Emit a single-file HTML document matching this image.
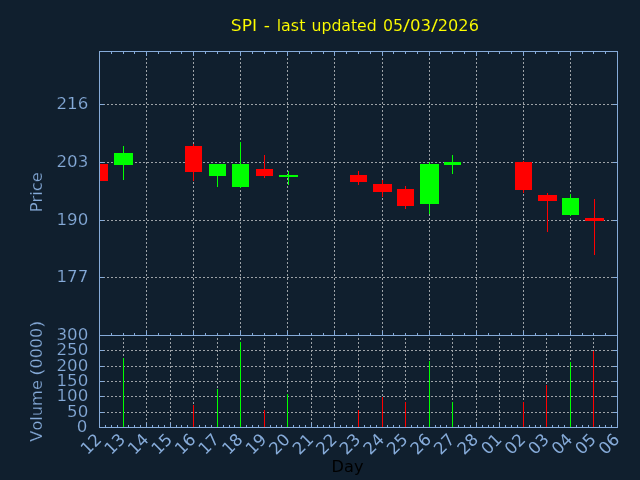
<!DOCTYPE html>
<html lang="en">
<head>
<meta charset="utf-8">
<title>SPI - last updated 05/03/2026</title>
<style>
html,body{margin:0;padding:0;background:#101f2e;overflow:hidden;}
body{width:640px;height:480px;}
svg{display:block;position:absolute;left:0;top:0;}
</style>
</head>
<body>
<svg width="640" height="480" viewBox="0 0 640 480">
<rect x="0" y="0" width="640" height="480" fill="#101f2e"/>
<g stroke="#9da2a7" stroke-width="1" fill="none" stroke-dasharray="2 2" stroke-dashoffset="0.5" shape-rendering="crispEdges">
<line x1="99.5" y1="104.5" x2="617.5" y2="104.5"/>
<line x1="99.5" y1="162.5" x2="617.5" y2="162.5"/>
<line x1="99.5" y1="220.5" x2="617.5" y2="220.5"/>
<line x1="99.5" y1="277.5" x2="617.5" y2="277.5"/>
<line x1="146.5" y1="335.5" x2="146.5" y2="51.5"/>
<line x1="193.5" y1="335.5" x2="193.5" y2="51.5"/>
<line x1="240.5" y1="335.5" x2="240.5" y2="51.5"/>
<line x1="287.5" y1="335.5" x2="287.5" y2="51.5"/>
<line x1="334.5" y1="335.5" x2="334.5" y2="51.5"/>
<line x1="382.5" y1="335.5" x2="382.5" y2="51.5"/>
<line x1="429.5" y1="335.5" x2="429.5" y2="51.5"/>
<line x1="476.5" y1="335.5" x2="476.5" y2="51.5"/>
<line x1="523.5" y1="335.5" x2="523.5" y2="51.5"/>
<line x1="570.5" y1="335.5" x2="570.5" y2="51.5"/>
<line x1="99.5" y1="412.5" x2="617.5" y2="412.5"/>
<line x1="99.5" y1="396.5" x2="617.5" y2="396.5"/>
<line x1="99.5" y1="381.5" x2="617.5" y2="381.5"/>
<line x1="99.5" y1="366.5" x2="617.5" y2="366.5"/>
<line x1="99.5" y1="350.5" x2="617.5" y2="350.5"/>
<line x1="123.5" y1="427.5" x2="123.5" y2="335.5"/>
<line x1="146.5" y1="427.5" x2="146.5" y2="335.5"/>
<line x1="170.5" y1="427.5" x2="170.5" y2="335.5"/>
<line x1="193.5" y1="427.5" x2="193.5" y2="335.5"/>
<line x1="217.5" y1="427.5" x2="217.5" y2="335.5"/>
<line x1="240.5" y1="427.5" x2="240.5" y2="335.5"/>
<line x1="264.5" y1="427.5" x2="264.5" y2="335.5"/>
<line x1="287.5" y1="427.5" x2="287.5" y2="335.5"/>
<line x1="311.5" y1="427.5" x2="311.5" y2="335.5"/>
<line x1="334.5" y1="427.5" x2="334.5" y2="335.5"/>
<line x1="358.5" y1="427.5" x2="358.5" y2="335.5"/>
<line x1="382.5" y1="427.5" x2="382.5" y2="335.5"/>
<line x1="405.5" y1="427.5" x2="405.5" y2="335.5"/>
<line x1="429.5" y1="427.5" x2="429.5" y2="335.5"/>
<line x1="452.5" y1="427.5" x2="452.5" y2="335.5"/>
<line x1="476.5" y1="427.5" x2="476.5" y2="335.5"/>
<line x1="499.5" y1="427.5" x2="499.5" y2="335.5"/>
<line x1="523.5" y1="427.5" x2="523.5" y2="335.5"/>
<line x1="546.5" y1="427.5" x2="546.5" y2="335.5"/>
<line x1="570.5" y1="427.5" x2="570.5" y2="335.5"/>
<line x1="593.5" y1="427.5" x2="593.5" y2="335.5"/>
</g>
<defs><clipPath id="ct"><rect x="99.5" y="51.5" width="518.0" height="284.0"/></clipPath>
<clipPath id="cb"><rect x="99.5" y="335.5" width="518.0" height="92.0"/></clipPath></defs>
<g clip-path="url(#ct)">
<line x1="99.5" y1="164" x2="99.5" y2="181" stroke="#ff0000" stroke-width="1" shape-rendering="crispEdges"/>
<rect x="91" y="164" width="17" height="17" fill="#ff0000"/>
<line x1="123.5" y1="146" x2="123.5" y2="180" stroke="#00ff00" stroke-width="1" shape-rendering="crispEdges"/>
<rect x="114" y="153" width="19" height="12" fill="#00ff00"/>
<line x1="193.5" y1="144" x2="193.5" y2="181" stroke="#ff0000" stroke-width="1" shape-rendering="crispEdges"/>
<rect x="185" y="146" width="17" height="26" fill="#ff0000"/>
<line x1="217.5" y1="164" x2="217.5" y2="187" stroke="#00ff00" stroke-width="1" shape-rendering="crispEdges"/>
<rect x="209" y="164" width="17" height="12" fill="#00ff00"/>
<line x1="240.5" y1="142" x2="240.5" y2="187.5" stroke="#00ff00" stroke-width="1" shape-rendering="crispEdges"/>
<rect x="232" y="164" width="17" height="23" fill="#00ff00"/>
<line x1="264.5" y1="155" x2="264.5" y2="178" stroke="#ff0000" stroke-width="1" shape-rendering="crispEdges"/>
<rect x="256" y="169" width="17" height="7" fill="#ff0000"/>
<line x1="288.5" y1="171" x2="288.5" y2="185" stroke="#00ff00" stroke-width="1" shape-rendering="crispEdges"/>
<rect x="279" y="175" width="19" height="2" fill="#00ff00"/>
<line x1="358.5" y1="171" x2="358.5" y2="185" stroke="#ff0000" stroke-width="1" shape-rendering="crispEdges"/>
<rect x="350" y="175" width="17" height="7" fill="#ff0000"/>
<line x1="382.5" y1="180" x2="382.5" y2="197" stroke="#ff0000" stroke-width="1" shape-rendering="crispEdges"/>
<rect x="373" y="184" width="19" height="8" fill="#ff0000"/>
<line x1="405.5" y1="186" x2="405.5" y2="209" stroke="#ff0000" stroke-width="1" shape-rendering="crispEdges"/>
<rect x="397" y="189" width="17" height="17" fill="#ff0000"/>
<line x1="429.5" y1="162" x2="429.5" y2="214" stroke="#00ff00" stroke-width="1" shape-rendering="crispEdges"/>
<rect x="420" y="164" width="19" height="40" fill="#00ff00"/>
<line x1="452.5" y1="155" x2="452.5" y2="174" stroke="#00ff00" stroke-width="1" shape-rendering="crispEdges"/>
<rect x="444" y="162" width="17" height="3" fill="#00ff00"/>
<line x1="523.5" y1="161" x2="523.5" y2="193" stroke="#ff0000" stroke-width="1" shape-rendering="crispEdges"/>
<rect x="515" y="162" width="17" height="28" fill="#ff0000"/>
<line x1="547.5" y1="193" x2="547.5" y2="232" stroke="#ff0000" stroke-width="1" shape-rendering="crispEdges"/>
<rect x="538" y="195" width="19" height="6" fill="#ff0000"/>
<line x1="570.5" y1="194" x2="570.5" y2="216" stroke="#00ff00" stroke-width="1" shape-rendering="crispEdges"/>
<rect x="562" y="198" width="17" height="17" fill="#00ff00"/>
<line x1="594.5" y1="199" x2="594.5" y2="255" stroke="#ff0000" stroke-width="1" shape-rendering="crispEdges"/>
<rect x="585" y="218" width="19" height="3" fill="#ff0000"/>
</g>
<g stroke="#86abd9" stroke-width="1" fill="none" shape-rendering="crispEdges">
<line x1="111.5" y1="51.5" x2="111.5" y2="54.0"/>
<line x1="111.5" y1="335.5" x2="111.5" y2="333.0"/>
<line x1="123.5" y1="51.5" x2="123.5" y2="54.0"/>
<line x1="123.5" y1="335.5" x2="123.5" y2="333.0"/>
<line x1="134.5" y1="51.5" x2="134.5" y2="54.0"/>
<line x1="134.5" y1="335.5" x2="134.5" y2="333.0"/>
<line x1="146.5" y1="51.5" x2="146.5" y2="56.0"/>
<line x1="146.5" y1="335.5" x2="146.5" y2="331.0"/>
<line x1="158.5" y1="51.5" x2="158.5" y2="54.0"/>
<line x1="158.5" y1="335.5" x2="158.5" y2="333.0"/>
<line x1="170.5" y1="51.5" x2="170.5" y2="54.0"/>
<line x1="170.5" y1="335.5" x2="170.5" y2="333.0"/>
<line x1="181.5" y1="51.5" x2="181.5" y2="54.0"/>
<line x1="181.5" y1="335.5" x2="181.5" y2="333.0"/>
<line x1="193.5" y1="51.5" x2="193.5" y2="56.0"/>
<line x1="193.5" y1="335.5" x2="193.5" y2="331.0"/>
<line x1="205.5" y1="51.5" x2="205.5" y2="54.0"/>
<line x1="205.5" y1="335.5" x2="205.5" y2="333.0"/>
<line x1="217.5" y1="51.5" x2="217.5" y2="54.0"/>
<line x1="217.5" y1="335.5" x2="217.5" y2="333.0"/>
<line x1="229.5" y1="51.5" x2="229.5" y2="54.0"/>
<line x1="229.5" y1="335.5" x2="229.5" y2="333.0"/>
<line x1="240.5" y1="51.5" x2="240.5" y2="56.0"/>
<line x1="240.5" y1="335.5" x2="240.5" y2="331.0"/>
<line x1="252.5" y1="51.5" x2="252.5" y2="54.0"/>
<line x1="252.5" y1="335.5" x2="252.5" y2="333.0"/>
<line x1="264.5" y1="51.5" x2="264.5" y2="54.0"/>
<line x1="264.5" y1="335.5" x2="264.5" y2="333.0"/>
<line x1="276.5" y1="51.5" x2="276.5" y2="54.0"/>
<line x1="276.5" y1="335.5" x2="276.5" y2="333.0"/>
<line x1="287.5" y1="51.5" x2="287.5" y2="56.0"/>
<line x1="287.5" y1="335.5" x2="287.5" y2="331.0"/>
<line x1="299.5" y1="51.5" x2="299.5" y2="54.0"/>
<line x1="299.5" y1="335.5" x2="299.5" y2="333.0"/>
<line x1="311.5" y1="51.5" x2="311.5" y2="54.0"/>
<line x1="311.5" y1="335.5" x2="311.5" y2="333.0"/>
<line x1="323.5" y1="51.5" x2="323.5" y2="54.0"/>
<line x1="323.5" y1="335.5" x2="323.5" y2="333.0"/>
<line x1="334.5" y1="51.5" x2="334.5" y2="56.0"/>
<line x1="334.5" y1="335.5" x2="334.5" y2="331.0"/>
<line x1="346.5" y1="51.5" x2="346.5" y2="54.0"/>
<line x1="346.5" y1="335.5" x2="346.5" y2="333.0"/>
<line x1="358.5" y1="51.5" x2="358.5" y2="54.0"/>
<line x1="358.5" y1="335.5" x2="358.5" y2="333.0"/>
<line x1="370.5" y1="51.5" x2="370.5" y2="54.0"/>
<line x1="370.5" y1="335.5" x2="370.5" y2="333.0"/>
<line x1="382.5" y1="51.5" x2="382.5" y2="56.0"/>
<line x1="382.5" y1="335.5" x2="382.5" y2="331.0"/>
<line x1="393.5" y1="51.5" x2="393.5" y2="54.0"/>
<line x1="393.5" y1="335.5" x2="393.5" y2="333.0"/>
<line x1="405.5" y1="51.5" x2="405.5" y2="54.0"/>
<line x1="405.5" y1="335.5" x2="405.5" y2="333.0"/>
<line x1="417.5" y1="51.5" x2="417.5" y2="54.0"/>
<line x1="417.5" y1="335.5" x2="417.5" y2="333.0"/>
<line x1="429.5" y1="51.5" x2="429.5" y2="56.0"/>
<line x1="429.5" y1="335.5" x2="429.5" y2="331.0"/>
<line x1="440.5" y1="51.5" x2="440.5" y2="54.0"/>
<line x1="440.5" y1="335.5" x2="440.5" y2="333.0"/>
<line x1="452.5" y1="51.5" x2="452.5" y2="54.0"/>
<line x1="452.5" y1="335.5" x2="452.5" y2="333.0"/>
<line x1="464.5" y1="51.5" x2="464.5" y2="54.0"/>
<line x1="464.5" y1="335.5" x2="464.5" y2="333.0"/>
<line x1="476.5" y1="51.5" x2="476.5" y2="56.0"/>
<line x1="476.5" y1="335.5" x2="476.5" y2="331.0"/>
<line x1="488.5" y1="51.5" x2="488.5" y2="54.0"/>
<line x1="488.5" y1="335.5" x2="488.5" y2="333.0"/>
<line x1="499.5" y1="51.5" x2="499.5" y2="54.0"/>
<line x1="499.5" y1="335.5" x2="499.5" y2="333.0"/>
<line x1="511.5" y1="51.5" x2="511.5" y2="54.0"/>
<line x1="511.5" y1="335.5" x2="511.5" y2="333.0"/>
<line x1="523.5" y1="51.5" x2="523.5" y2="56.0"/>
<line x1="523.5" y1="335.5" x2="523.5" y2="331.0"/>
<line x1="535.5" y1="51.5" x2="535.5" y2="54.0"/>
<line x1="535.5" y1="335.5" x2="535.5" y2="333.0"/>
<line x1="546.5" y1="51.5" x2="546.5" y2="54.0"/>
<line x1="546.5" y1="335.5" x2="546.5" y2="333.0"/>
<line x1="558.5" y1="51.5" x2="558.5" y2="54.0"/>
<line x1="558.5" y1="335.5" x2="558.5" y2="333.0"/>
<line x1="570.5" y1="51.5" x2="570.5" y2="56.0"/>
<line x1="570.5" y1="335.5" x2="570.5" y2="331.0"/>
<line x1="582.5" y1="51.5" x2="582.5" y2="54.0"/>
<line x1="582.5" y1="335.5" x2="582.5" y2="333.0"/>
<line x1="593.5" y1="51.5" x2="593.5" y2="54.0"/>
<line x1="593.5" y1="335.5" x2="593.5" y2="333.0"/>
<line x1="605.5" y1="51.5" x2="605.5" y2="54.0"/>
<line x1="605.5" y1="335.5" x2="605.5" y2="333.0"/>
<line x1="99.5" y1="104.5" x2="104.0" y2="104.5"/>
<line x1="617.5" y1="104.5" x2="613.0" y2="104.5"/>
<line x1="99.5" y1="162.5" x2="104.0" y2="162.5"/>
<line x1="617.5" y1="162.5" x2="613.0" y2="162.5"/>
<line x1="99.5" y1="220.5" x2="104.0" y2="220.5"/>
<line x1="617.5" y1="220.5" x2="613.0" y2="220.5"/>
<line x1="99.5" y1="277.5" x2="104.0" y2="277.5"/>
<line x1="617.5" y1="277.5" x2="613.0" y2="277.5"/>
<line x1="105.5" y1="427.5" x2="105.5" y2="425.0"/>
<line x1="111.5" y1="427.5" x2="111.5" y2="425.0"/>
<line x1="117.5" y1="427.5" x2="117.5" y2="425.0"/>
<line x1="123.5" y1="427.5" x2="123.5" y2="423.0"/>
<line x1="128.5" y1="427.5" x2="128.5" y2="425.0"/>
<line x1="134.5" y1="427.5" x2="134.5" y2="425.0"/>
<line x1="140.5" y1="427.5" x2="140.5" y2="425.0"/>
<line x1="146.5" y1="427.5" x2="146.5" y2="423.0"/>
<line x1="152.5" y1="427.5" x2="152.5" y2="425.0"/>
<line x1="158.5" y1="427.5" x2="158.5" y2="425.0"/>
<line x1="164.5" y1="427.5" x2="164.5" y2="425.0"/>
<line x1="170.5" y1="427.5" x2="170.5" y2="423.0"/>
<line x1="176.5" y1="427.5" x2="176.5" y2="425.0"/>
<line x1="181.5" y1="427.5" x2="181.5" y2="425.0"/>
<line x1="187.5" y1="427.5" x2="187.5" y2="425.0"/>
<line x1="193.5" y1="427.5" x2="193.5" y2="423.0"/>
<line x1="199.5" y1="427.5" x2="199.5" y2="425.0"/>
<line x1="205.5" y1="427.5" x2="205.5" y2="425.0"/>
<line x1="211.5" y1="427.5" x2="211.5" y2="425.0"/>
<line x1="217.5" y1="427.5" x2="217.5" y2="423.0"/>
<line x1="223.5" y1="427.5" x2="223.5" y2="425.0"/>
<line x1="229.5" y1="427.5" x2="229.5" y2="425.0"/>
<line x1="234.5" y1="427.5" x2="234.5" y2="425.0"/>
<line x1="240.5" y1="427.5" x2="240.5" y2="423.0"/>
<line x1="246.5" y1="427.5" x2="246.5" y2="425.0"/>
<line x1="252.5" y1="427.5" x2="252.5" y2="425.0"/>
<line x1="258.5" y1="427.5" x2="258.5" y2="425.0"/>
<line x1="264.5" y1="427.5" x2="264.5" y2="423.0"/>
<line x1="270.5" y1="427.5" x2="270.5" y2="425.0"/>
<line x1="276.5" y1="427.5" x2="276.5" y2="425.0"/>
<line x1="281.5" y1="427.5" x2="281.5" y2="425.0"/>
<line x1="287.5" y1="427.5" x2="287.5" y2="423.0"/>
<line x1="293.5" y1="427.5" x2="293.5" y2="425.0"/>
<line x1="299.5" y1="427.5" x2="299.5" y2="425.0"/>
<line x1="305.5" y1="427.5" x2="305.5" y2="425.0"/>
<line x1="311.5" y1="427.5" x2="311.5" y2="423.0"/>
<line x1="317.5" y1="427.5" x2="317.5" y2="425.0"/>
<line x1="323.5" y1="427.5" x2="323.5" y2="425.0"/>
<line x1="329.5" y1="427.5" x2="329.5" y2="425.0"/>
<line x1="334.5" y1="427.5" x2="334.5" y2="423.0"/>
<line x1="340.5" y1="427.5" x2="340.5" y2="425.0"/>
<line x1="346.5" y1="427.5" x2="346.5" y2="425.0"/>
<line x1="352.5" y1="427.5" x2="352.5" y2="425.0"/>
<line x1="358.5" y1="427.5" x2="358.5" y2="423.0"/>
<line x1="364.5" y1="427.5" x2="364.5" y2="425.0"/>
<line x1="370.5" y1="427.5" x2="370.5" y2="425.0"/>
<line x1="376.5" y1="427.5" x2="376.5" y2="425.0"/>
<line x1="382.5" y1="427.5" x2="382.5" y2="423.0"/>
<line x1="387.5" y1="427.5" x2="387.5" y2="425.0"/>
<line x1="393.5" y1="427.5" x2="393.5" y2="425.0"/>
<line x1="399.5" y1="427.5" x2="399.5" y2="425.0"/>
<line x1="405.5" y1="427.5" x2="405.5" y2="423.0"/>
<line x1="411.5" y1="427.5" x2="411.5" y2="425.0"/>
<line x1="417.5" y1="427.5" x2="417.5" y2="425.0"/>
<line x1="423.5" y1="427.5" x2="423.5" y2="425.0"/>
<line x1="429.5" y1="427.5" x2="429.5" y2="423.0"/>
<line x1="435.5" y1="427.5" x2="435.5" y2="425.0"/>
<line x1="440.5" y1="427.5" x2="440.5" y2="425.0"/>
<line x1="446.5" y1="427.5" x2="446.5" y2="425.0"/>
<line x1="452.5" y1="427.5" x2="452.5" y2="423.0"/>
<line x1="458.5" y1="427.5" x2="458.5" y2="425.0"/>
<line x1="464.5" y1="427.5" x2="464.5" y2="425.0"/>
<line x1="470.5" y1="427.5" x2="470.5" y2="425.0"/>
<line x1="476.5" y1="427.5" x2="476.5" y2="423.0"/>
<line x1="482.5" y1="427.5" x2="482.5" y2="425.0"/>
<line x1="488.5" y1="427.5" x2="488.5" y2="425.0"/>
<line x1="493.5" y1="427.5" x2="493.5" y2="425.0"/>
<line x1="499.5" y1="427.5" x2="499.5" y2="423.0"/>
<line x1="505.5" y1="427.5" x2="505.5" y2="425.0"/>
<line x1="511.5" y1="427.5" x2="511.5" y2="425.0"/>
<line x1="517.5" y1="427.5" x2="517.5" y2="425.0"/>
<line x1="523.5" y1="427.5" x2="523.5" y2="423.0"/>
<line x1="529.5" y1="427.5" x2="529.5" y2="425.0"/>
<line x1="535.5" y1="427.5" x2="535.5" y2="425.0"/>
<line x1="540.5" y1="427.5" x2="540.5" y2="425.0"/>
<line x1="546.5" y1="427.5" x2="546.5" y2="423.0"/>
<line x1="552.5" y1="427.5" x2="552.5" y2="425.0"/>
<line x1="558.5" y1="427.5" x2="558.5" y2="425.0"/>
<line x1="564.5" y1="427.5" x2="564.5" y2="425.0"/>
<line x1="570.5" y1="427.5" x2="570.5" y2="423.0"/>
<line x1="576.5" y1="427.5" x2="576.5" y2="425.0"/>
<line x1="582.5" y1="427.5" x2="582.5" y2="425.0"/>
<line x1="588.5" y1="427.5" x2="588.5" y2="425.0"/>
<line x1="593.5" y1="427.5" x2="593.5" y2="423.0"/>
<line x1="599.5" y1="427.5" x2="599.5" y2="425.0"/>
<line x1="605.5" y1="427.5" x2="605.5" y2="425.0"/>
<line x1="611.5" y1="427.5" x2="611.5" y2="425.0"/>
<line x1="99.5" y1="412.5" x2="104.0" y2="412.5"/>
<line x1="617.5" y1="412.5" x2="613.0" y2="412.5"/>
<line x1="99.5" y1="396.5" x2="104.0" y2="396.5"/>
<line x1="617.5" y1="396.5" x2="613.0" y2="396.5"/>
<line x1="99.5" y1="381.5" x2="104.0" y2="381.5"/>
<line x1="617.5" y1="381.5" x2="613.0" y2="381.5"/>
<line x1="99.5" y1="366.5" x2="104.0" y2="366.5"/>
<line x1="617.5" y1="366.5" x2="613.0" y2="366.5"/>
<line x1="99.5" y1="350.5" x2="104.0" y2="350.5"/>
<line x1="617.5" y1="350.5" x2="613.0" y2="350.5"/>
</g>
<g clip-path="url(#cb)">
<line x1="123.5" y1="358" x2="123.5" y2="427.5" stroke="#00ff00" stroke-width="1" shape-rendering="crispEdges"/>
<line x1="193.5" y1="405" x2="193.5" y2="427.5" stroke="#ff0000" stroke-width="1" shape-rendering="crispEdges"/>
<line x1="217.5" y1="389" x2="217.5" y2="427.5" stroke="#00ff00" stroke-width="1" shape-rendering="crispEdges"/>
<line x1="240.5" y1="342" x2="240.5" y2="427.5" stroke="#00ff00" stroke-width="1" shape-rendering="crispEdges"/>
<line x1="264.5" y1="410" x2="264.5" y2="427.5" stroke="#ff0000" stroke-width="1" shape-rendering="crispEdges"/>
<line x1="287.5" y1="394" x2="287.5" y2="427.5" stroke="#00ff00" stroke-width="1" shape-rendering="crispEdges"/>
<line x1="358.5" y1="410" x2="358.5" y2="427.5" stroke="#ff0000" stroke-width="1" shape-rendering="crispEdges"/>
<line x1="382.5" y1="397" x2="382.5" y2="427.5" stroke="#ff0000" stroke-width="1" shape-rendering="crispEdges"/>
<line x1="405.5" y1="402" x2="405.5" y2="427.5" stroke="#ff0000" stroke-width="1" shape-rendering="crispEdges"/>
<line x1="429.5" y1="361" x2="429.5" y2="427.5" stroke="#00ff00" stroke-width="1" shape-rendering="crispEdges"/>
<line x1="452.5" y1="402" x2="452.5" y2="427.5" stroke="#00ff00" stroke-width="1" shape-rendering="crispEdges"/>
<line x1="523.5" y1="402" x2="523.5" y2="427.5" stroke="#ff0000" stroke-width="1" shape-rendering="crispEdges"/>
<line x1="546.5" y1="385" x2="546.5" y2="427.5" stroke="#ff0000" stroke-width="1" shape-rendering="crispEdges"/>
<line x1="570.5" y1="362" x2="570.5" y2="427.5" stroke="#00ff00" stroke-width="1" shape-rendering="crispEdges"/>
<line x1="593.5" y1="351" x2="593.5" y2="427.5" stroke="#ff0000" stroke-width="1" shape-rendering="crispEdges"/>
</g>
<g stroke="#86abd9" stroke-width="1" fill="none" stroke-linecap="square" shape-rendering="crispEdges">
<rect x="99.5" y="51.5" width="518.0" height="284.0"/>
<rect x="99.5" y="335.5" width="518.0" height="92.0"/>
</g>
<g font-family="'DejaVu Sans', 'Liberation Sans', sans-serif" font-size="16.667px" stroke="#101f2e" stroke-width="0.2" style="font-kerning:none">
<text y="30.8" fill="#ffff00" stroke-width="0.1" xml:space="preserve"><tspan x="230.87" textLength="26.20" lengthAdjust="spacingAndGlyphs">SPI</tspan> <tspan x="263.67" textLength="6.17" lengthAdjust="spacingAndGlyphs">-</tspan> <tspan x="276.70" textLength="28.68" lengthAdjust="spacingAndGlyphs">last</tspan> <tspan x="311.47" textLength="65.26" lengthAdjust="spacingAndGlyphs">updated</tspan> <tspan x="382.96" textLength="20.12" lengthAdjust="spacingAndGlyphs">05</tspan><tspan x="402.90" textLength="6.90" lengthAdjust="spacingAndGlyphs">/</tspan><tspan x="409.91" textLength="21.12" lengthAdjust="spacingAndGlyphs">03</tspan><tspan x="431.00" textLength="6.90" lengthAdjust="spacingAndGlyphs">/</tspan><tspan x="437.82" textLength="41.10" lengthAdjust="spacingAndGlyphs">2026</tspan></text>
<text x="88.3" y="109.0" text-anchor="end" fill="#86abd9">216</text>
<text x="88.3" y="167.0" text-anchor="end" fill="#86abd9">203</text>
<text x="88.3" y="225.0" text-anchor="end" fill="#86abd9">190</text>
<text x="88.3" y="282.0" text-anchor="end" fill="#86abd9">177</text>
<text x="87.3" y="432.00" text-anchor="end" fill="#86abd9">0</text>
<text x="88.3" y="417.00" text-anchor="end" fill="#86abd9">50</text>
<text x="88.3" y="401.00" text-anchor="end" fill="#86abd9">100</text>
<text x="88.3" y="386.00" text-anchor="end" fill="#86abd9">150</text>
<text x="88.3" y="371.00" text-anchor="end" fill="#86abd9">200</text>
<text x="88.3" y="355.00" text-anchor="end" fill="#86abd9">250</text>
<text x="88.3" y="340.00" text-anchor="end" fill="#86abd9">300</text>
<text transform="translate(42.3 0) rotate(-90)" y="0" fill="#86abd9" xml:space="preserve"><tspan x="-212.30" textLength="40.07" lengthAdjust="spacingAndGlyphs">Price</tspan></text>
<text transform="translate(42.3 0) rotate(-90)" y="0" fill="#86abd9" xml:space="preserve"><tspan x="-441.73" textLength="61.59" lengthAdjust="spacingAndGlyphs">Volume</tspan> <tspan x="-376.06" textLength="8.01" lengthAdjust="spacingAndGlyphs">(</tspan><tspan x="-368.45" textLength="40.61" lengthAdjust="spacingAndGlyphs">0000</tspan><tspan x="-328.24" textLength="8.01" lengthAdjust="spacingAndGlyphs">)</tspan></text>
<text transform="translate(102.60 440.60) rotate(-45)" text-anchor="end" fill="#86abd9" stroke="none">12</text>
<text transform="translate(126.15 440.60) rotate(-45)" text-anchor="end" fill="#86abd9" stroke="none">13</text>
<text transform="translate(149.69 440.60) rotate(-45)" text-anchor="end" fill="#86abd9" stroke="none">14</text>
<text transform="translate(173.24 440.60) rotate(-45)" text-anchor="end" fill="#86abd9" stroke="none">15</text>
<text transform="translate(196.78 440.60) rotate(-45)" text-anchor="end" fill="#86abd9" stroke="none">16</text>
<text transform="translate(220.33 440.60) rotate(-45)" text-anchor="end" fill="#86abd9" stroke="none">17</text>
<text transform="translate(243.87 440.60) rotate(-45)" text-anchor="end" fill="#86abd9" stroke="none">18</text>
<text transform="translate(267.42 440.60) rotate(-45)" text-anchor="end" fill="#86abd9" stroke="none">19</text>
<text transform="translate(290.96 440.60) rotate(-45)" text-anchor="end" fill="#86abd9" stroke="none">20</text>
<text transform="translate(314.51 440.60) rotate(-45)" text-anchor="end" fill="#86abd9" stroke="none">21</text>
<text transform="translate(338.05 440.60) rotate(-45)" text-anchor="end" fill="#86abd9" stroke="none">22</text>
<text transform="translate(361.60 440.60) rotate(-45)" text-anchor="end" fill="#86abd9" stroke="none">23</text>
<text transform="translate(385.15 440.60) rotate(-45)" text-anchor="end" fill="#86abd9" stroke="none">24</text>
<text transform="translate(408.69 440.60) rotate(-45)" text-anchor="end" fill="#86abd9" stroke="none">25</text>
<text transform="translate(432.24 440.60) rotate(-45)" text-anchor="end" fill="#86abd9" stroke="none">26</text>
<text transform="translate(455.78 440.60) rotate(-45)" text-anchor="end" fill="#86abd9" stroke="none">27</text>
<text transform="translate(479.33 440.60) rotate(-45)" text-anchor="end" fill="#86abd9" stroke="none">28</text>
<text transform="translate(502.87 440.60) rotate(-45)" text-anchor="end" fill="#86abd9" stroke="none">01</text>
<text transform="translate(526.42 440.60) rotate(-45)" text-anchor="end" fill="#86abd9" stroke="none">02</text>
<text transform="translate(549.96 440.60) rotate(-45)" text-anchor="end" fill="#86abd9" stroke="none">03</text>
<text transform="translate(573.51 440.60) rotate(-45)" text-anchor="end" fill="#86abd9" stroke="none">04</text>
<text transform="translate(597.05 440.60) rotate(-45)" text-anchor="end" fill="#86abd9" stroke="none">05</text>
<text transform="translate(620.60 440.60) rotate(-45)" text-anchor="end" fill="#86abd9" stroke="none">06</text>
<text x="331.62" y="471.6" textLength="31.86" lengthAdjust="spacingAndGlyphs" fill="#000000" stroke="none">Day</text>
</g>
</svg>
</body>
</html>
